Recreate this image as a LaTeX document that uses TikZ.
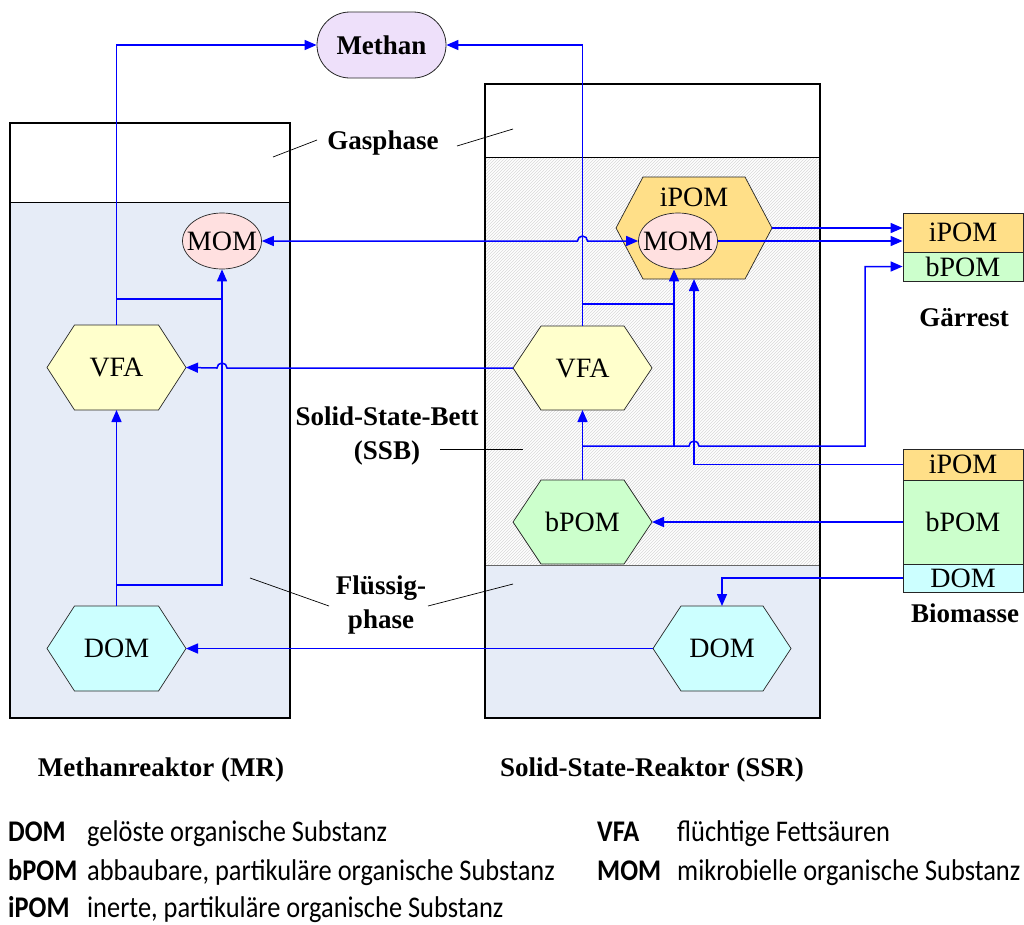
\documentclass[tikz,border=0pt]{standalone}
\usepackage{fontspec}
\setmainfont{Liberation Serif}
\newfontfamily\calib[FakeStretch=0.88]{Carlito}
\usetikzlibrary{arrows.meta,shapes.geometric,shapes.misc,patterns,calc}

\definecolor{liq}{RGB}{230,236,247}
\definecolor{methc}{RGB}{238,224,250}
\definecolor{momc}{RGB}{255,224,224}
\definecolor{vfac}{RGB}{255,255,204}
\definecolor{domc}{RGB}{204,255,255}
\definecolor{bpomc}{RGB}{204,255,204}
\definecolor{ipomc}{RGB}{255,223,136}

\newcommand{\hexnode}[8]{% name,x,y,w,h,inset,fill,text
  \draw[hexline,fill=#7] ({#2-#4/2},#3) -- ({#2-#4/2+#6},{#3-#5/2}) -- ({#2+#4/2-#6},{#3-#5/2}) -- ({#2+#4/2},#3) -- ({#2+#4/2-#6},{#3+#5/2}) -- ({#2-#4/2+#6},{#3+#5/2}) -- cycle;
  \node[nodefont, minimum width=#4, minimum height=#5, inner sep=0pt, outer sep=0pt] (#1) at (#2,#3) {#8};}

\begin{document}
\begin{tikzpicture}[x=1pt,y=-1pt,
  flow/.style={draw=blue, line width=1.5pt},
  arr/.style={flow, -{Triangle[length=12pt,width=10pt]}},
  darr/.style={flow, {Triangle[length=12pt,width=10pt]}-{Triangle[length=12pt,width=10pt]}},
  hexline/.style={draw=black!85, line width=0.7pt},
  lead/.style={draw=black, line width=0.7pt},
  reactor/.style={draw=black, line width=2pt},
  nodefont/.style={font=\fontsize{28}{30}\selectfont},
  momnode/.style={ellipse, draw=black!85, line width=0.7pt, fill=momc, minimum width=79pt, minimum height=56pt, inner sep=0pt, nodefont},
  lbl/.style={font=\bfseries\fontsize{27}{34}\selectfont, align=center, inner sep=0pt},
  cbox/.style={draw=black!85, line width=0.8pt, minimum width=120pt, inner sep=0pt, font=\fontsize{28}{30}\selectfont},
  legk/.style={font=\calib\bfseries\fontsize{30}{32}\selectfont, anchor=base west, inner sep=0pt},
  legd/.style={font=\calib\fontsize{30}{32}\selectfont, anchor=base west, inner sep=0pt}]
\useasboundingbox (0,0) rectangle (1024,924);

% ---------- reactor backgrounds ----------
\fill[liq] (10,202) rectangle (290,718);
\draw[black, line width=0.8pt] (10,202) -- (290,202);
\draw[reactor] (10,123) rectangle (290,718);

\fill[white] (485,157) rectangle (820,565);
\fill[pattern=north east lines, pattern color=gray!30] (485,157) rectangle (820,565);
\fill[liq] (485,565) rectangle (820,718);
\draw[black, line width=0.8pt] (485,157) -- (820,157);
\draw[black!60, line width=0.8pt] (485,565) -- (820,565);
\draw[reactor] (485,84) rectangle (820,718);

% ---------- labels with leader lines ----------
\node[lbl] (gas) at (383,143) {Gasphase};
\coordinate (gasL1) at (273,157); \coordinate (gasL2) at (317,140);
\coordinate (gasR1) at (457,146); \coordinate (gasR2) at (513,129);
\draw[lead] (gasL1) -- (gasL2);
\draw[lead] (gasR1) -- (gasR2);

\node[lbl] (ssb) at (387,436) {Solid-State-Bett\\(SSB)};
\coordinate (ssb1) at (440,449); \coordinate (ssb2) at (523,449);
\draw[lead] (ssb1) -- (ssb2);

\node[lbl] (fl) at (381,605) {Flüssig-\\phase};
\coordinate (flL1) at (250,578); \coordinate (flL2) at (329,606);
\coordinate (flR1) at (428,606); \coordinate (flR2) at (513,584);
\draw[lead] (flL1) -- (flL2);
\draw[lead] (flR1) -- (flR2);

\node[lbl] (mrt) at (161,770) {Methanreaktor (MR)};
\node[lbl] (ssrt) at (652,770) {Solid-State-Reaktor (SSR)};
\node[lbl] (gaer) at (964,318) {Gärrest};
\node[lbl] (biom) at (965,613) {Biomasse};

% ---------- nodes ----------
\node[rounded rectangle, draw=black!85, line width=0.8pt, fill=methc, minimum width=129pt, minimum height=66pt, inner sep=0pt, font=\bfseries\fontsize{27}{30}\selectfont] (meth) at (381.5,45) {Methan};

\hexnode{mvfa}{116.5}{367.5}{139}{85}{27.5}{vfac}{VFA}
\hexnode{mdom}{116.5}{648.5}{139}{85}{27.5}{domc}{DOM}
\node[momnode] (mmom) at (222,241) {\makebox[0pt]{MOM}};

\hexnode{sipom}{694}{228}{156}{102}{27}{ipomc}{}
\node[nodefont, inner sep=0pt] (sipomt) at (694,197) {iPOM};
\node[momnode] (smom) at (678,241) {\makebox[0pt]{MOM}};
\hexnode{svfa}{582.5}{368}{139}{84}{28}{vfac}{VFA}
\hexnode{sbpom}{582.5}{522}{139}{84}{28}{bpomc}{bPOM}
\hexnode{sdom}{722}{648.5}{138}{85}{28}{domc}{DOM}

\node[cbox, fill=ipomc, minimum height=39pt] (gipom) at (963,232.5) {iPOM};
\node[cbox, fill=bpomc, minimum height=29pt] (gbpom) at (963,266.5) {bPOM};

\node[cbox, fill=ipomc, minimum height=31pt] (bipom) at (963,464.5) {iPOM};
\node[cbox, fill=bpomc, minimum height=84pt] (bbpom) at (963,522) {bPOM};
\node[cbox, fill=domc, minimum height=28pt] (bdom) at (963,578) {DOM};

% ---------- connectors: methane reactor ----------
\coordinate (mj1) at (116.5,299);
\coordinate (mj2) at (116.5,585);
\draw[arr] (mvfa.north) |- (meth.west);
\draw[flow] (mj1) -- (mj1 -| mmom.south);
\draw[arr] (mj2) -| (mmom.south);
\draw[arr] (mdom.north) -- (mvfa.south);

% ---------- connectors: solid-state reactor ----------
\coordinate (sj1) at (582.5,446);
\coordinate (sj2) at (674,446);
\coordinate (sj3) at (582.5,304);
\coordinate (sj4) at (865,446);
\draw[arr] (svfa.north) |- (meth.east);
\draw[flow] (sj3) -- (sj3 -| sj2);
\draw[arr] (sbpom.north) -- (svfa.south);
\draw[arr] (sj2) -- (sj2 |- smom.south);
\draw[arr] (sj1) -- (sj2) -- (689,446) arc[start angle=180, end angle=0, radius=5pt] -- (sj4) |- (gbpom.west);
\draw[arr] (bipom.west) -| (sipom.south);
\draw[arr] (bbpom.west) -- (sbpom.east);
\draw[arr] (bdom.west) -| (sdom.north);
\draw[arr] (sdom.west) -- (mdom.east);
\draw[arr] (svfa.west) -- (227,368) arc[start angle=0, end angle=180, radius=5pt] -- (mvfa.east);
\draw[darr] (mmom.east) -- (577.5,241) arc[start angle=180, end angle=0, radius=5pt] -- (smom.west);
\draw[arr] (sipom.east) -- (sipom.east -| gipom.west);
\draw[arr] (smom.east) -- (smom.east -| gipom.west);

% ---------- legend ----------
\node[legk] (k1) at (8,841) {DOM};
\node[legd] (d1) at (87,841) {gelöste organische Substanz};
\node[legk] (k2) at (8,880) {bPOM};
\node[legd] (d2) at (87,880) {abbaubare, partikuläre organische Substanz};
\node[legk] (k3) at (8,917) {iPOM};
\node[legd] (d3) at (87,917) {inerte, partikuläre organische Substanz};
\node[legk] (k4) at (597,841) {VFA};
\node[legd] (d4) at (677,841) {flüchtige Fettsäuren};
\node[legk] (k5) at (597,880) {MOM};
\node[legd] (d5) at (677,880) {mikrobielle organische Substanz};
\end{tikzpicture}
\end{document}
